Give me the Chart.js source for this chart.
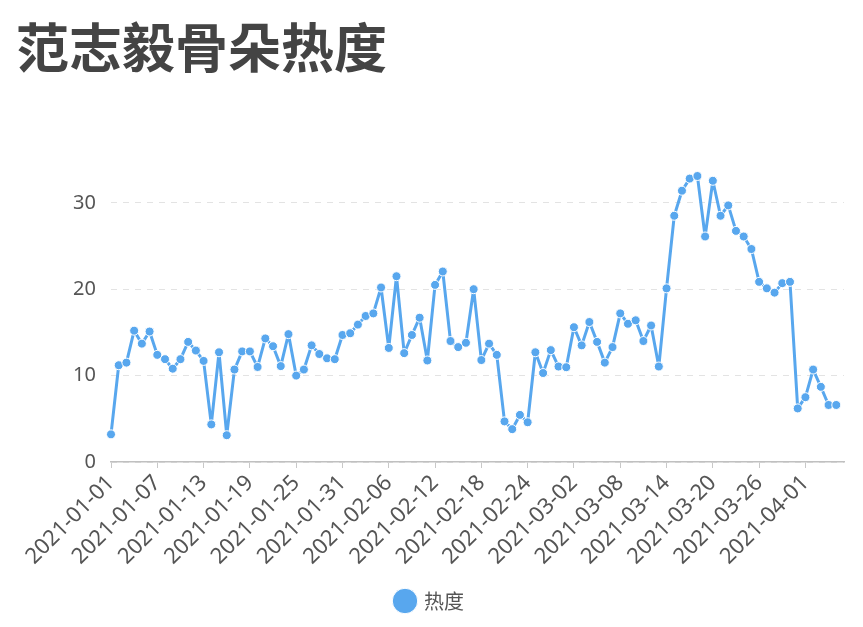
<!DOCTYPE html>
<html>
<head>
<meta charset="utf-8">
<script src="https://cdn.jsdelivr.net/npm/chart.js@4/dist/chart.umd.min.js"></script>
<style>
  html, body { margin: 0; padding: 0; background: #fff; }
  #wrap { width: 863px; height: 627px; }
</style>
</head>
<body>
<div id="wrap"><canvas id="myChart" width="863" height="627"></canvas></div>
<script>
var title = '范志毅骨朵热度';
var seriesName = '热度';

// daily values, 2021-01-01 .. 2021-04-05
var heat = [
  3.2, 11.2, 11.5, 15.2, 13.7, 15.1, 12.4, 11.9, 10.8, 11.9,
  13.9, 12.9, 11.7, 4.35, 12.7, 3.1, 10.7, 12.8, 12.8, 11.0,
  14.3, 13.4, 11.1, 14.8, 10.0, 10.7, 13.5, 12.5, 12.0, 11.9,
  14.7, 14.9, 15.9, 16.9, 17.2, 20.2, 13.2, 21.5, 12.6, 14.7,
  16.7, 11.75, 20.5, 22.05, 14.0, 13.3, 13.8, 20.0, 11.8, 13.7,
  12.4, 4.7, 3.8, 5.45, 4.6, 12.7, 10.3, 12.95, 11.05, 10.97,
  15.6, 13.5, 16.2, 13.9, 11.5, 13.3, 17.2, 16.0, 16.4, 14.0,
  15.8, 11.05, 20.1, 28.5, 31.4, 32.8, 33.1, 26.1, 32.55, 28.5,
  29.7, 26.75, 26.1, 24.65, 20.85, 20.1, 19.6, 20.7, 20.85, 6.2,
  7.5, 10.7, 8.7, 6.6, 6.6
];

// one extra day at the end so the axis runs a step past the last point
var dates = [];
var d0 = Date.UTC(2021, 0, 1);
for (var i = 0; i <= heat.length; i++) {
  dates.push(new Date(d0 + i * 86400000).toISOString().slice(0, 10));
}
var yTicks = [0, 10, 20, 30];

var blue = '#58a7ee';

var ctx = document.getElementById('myChart').getContext('2d');
var myChart = new Chart(ctx, {
  type: 'line',
  data: {
    labels: dates,
    datasets: [{
      label: seriesName,
      data: heat,
      borderColor: blue,
      backgroundColor: blue,
      borderWidth: 3,
      borderJoinStyle: 'round',
      pointRadius: 4.5,
      pointBorderColor: '#fff',
      pointBorderWidth: 1,
      pointBackgroundColor: blue,
      tension: 0
    }]
  },
  options: {
    responsive: false,
    animation: false,
    layout: { padding: { left: 16, right: 19, top: 0, bottom: 6 } },
    plugins: {
      title: {
        display: true,
        text: title,
        align: 'start',
        color: '#444',
        font: { family: '"Noto Sans CJK SC", "Noto Sans"', size: 53, weight: 'bold' },
        padding: { top: 16, bottom: 80 }
      },
      legend: {
        position: 'bottom',
        labels: {
          usePointStyle: true,
          pointStyle: 'circle',
          boxWidth: 18,
          boxHeight: 18,
          color: '#555',
          padding: 10,
          font: { family: '"Noto Sans CJK SC", "Noto Sans"', size: 20 }
        }
      },
      tooltip: { enabled: false }
    },
    scales: {
      x: {
        offset: false,
        grid: { display: true, drawOnChartArea: false, drawTicks: true, tickLength: 6, color: '#c8c8c8' },
        border: { display: true, color: '#c0c0c0', width: 1.5 },
        ticks: {
          autoSkip: false,
          maxRotation: 45,
          minRotation: 45,
          color: '#555',
          padding: 2,
          font: { family: '"Noto Sans"', size: 22 },
          callback: function(v, idx) { return idx % 6 === 0 ? dates[idx] : null; }
        },
        afterFit: function(scale) { scale.height = 119; }
      },
      y: {
        min: 0,
        max: 35,
        grid: { color: '#e3e3e3', drawTicks: false, lineWidth: 1 },
        border: { display: false, dash: [6, 6] },
        ticks: {
          stepSize: 10,
          padding: 15,
          color: '#555',
          font: { family: '"Noto Sans"', size: 20 },
          callback: function(v) { return yTicks.indexOf(v) >= 0 ? String(v) : null; }
        },
        afterFit: function(scale) { scale.width = 95; }
      }
    }
  }
});
</script>
</body>
</html>
